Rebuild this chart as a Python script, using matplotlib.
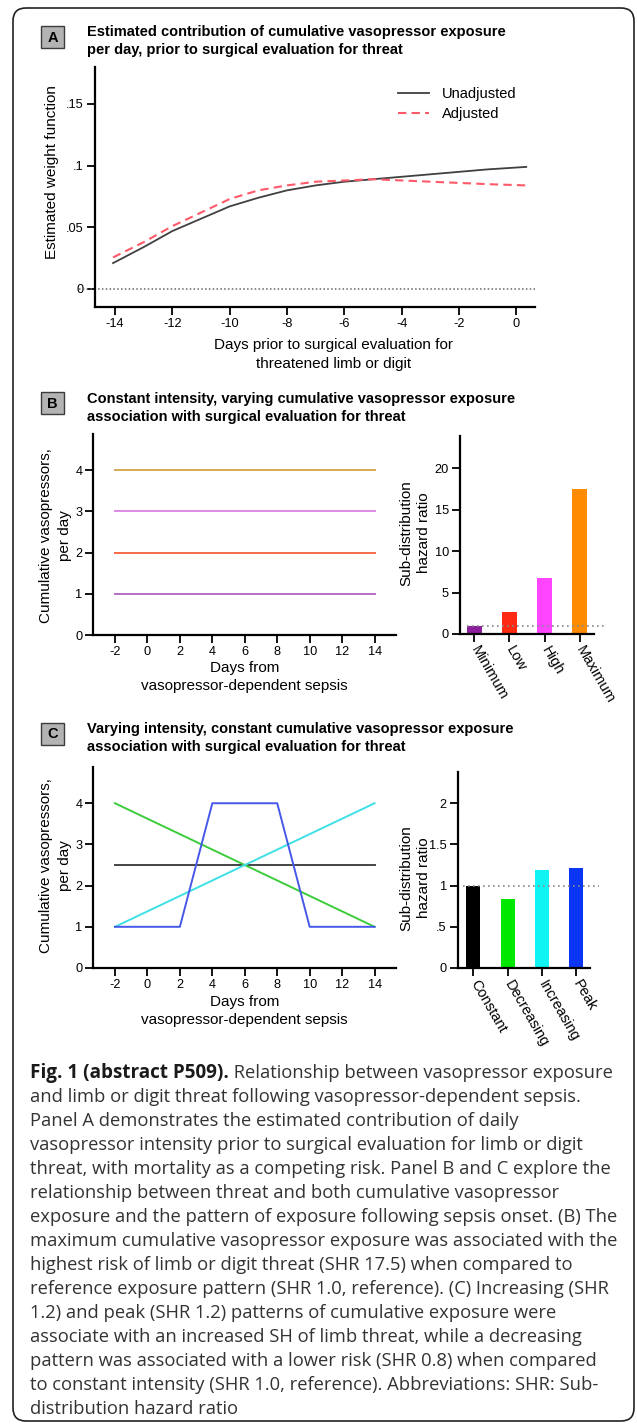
import matplotlib
matplotlib.use("Agg")
import matplotlib.pyplot as plt
from matplotlib.patches import FancyBboxPatch, Rectangle

# --- data ---
# Panel A: estimated weight function per day before surgical evaluation
days_a = [-14.07, -13, -12, -11, -10, -9, -8, -7, -6, -5, -4, -3, -2, -1, 0.34]
unadjusted = [0.021, 0.034, 0.047, 0.057, 0.067, 0.074, 0.080, 0.084, 0.087,
              0.089, 0.091, 0.093, 0.095, 0.097, 0.099]
adjusted = [0.0256, 0.038, 0.051, 0.062, 0.073, 0.080, 0.084, 0.087, 0.088,
            0.089, 0.088, 0.087, 0.086, 0.085, 0.084]

# Panel B: constant intensity exposure levels and their SHR
days_bc = [-2, 14]
b_levels = [1, 2, 3, 4]
b_cats = ["Minimum", "Low", "High", "Maximum"]
b_shr = [1.0, 2.6, 6.8, 17.5]

# Panel C: exposure patterns and their SHR
c_constant = [2.5, 2.5]
c_decreasing = [4, 1]
c_increasing = [1, 4]
c_peak_days = [-2, 2, 4, 8, 10, 14]
c_peak_vals = [1, 1, 4, 4, 1, 1]
c_cats = ["Constant", "Decreasing", "Increasing", "Peak"]
c_shr = [1.0, 0.84, 1.19, 1.21]

caption_bold = "Fig. 1 (abstract P509)."
caption_lines = [
    " Relationship between vasopressor exposure",
    "and limb or digit threat following vasopressor-dependent sepsis.",
    "Panel A demonstrates the estimated contribution of daily",
    "vasopressor intensity prior to surgical evaluation for limb or digit",
    "threat, with mortality as a competing risk. Panel B and C explore the",
    "relationship between threat and both cumulative vasopressor",
    "exposure and the pattern of exposure following sepsis onset. (B) The",
    "maximum cumulative vasopressor exposure was associated with the",
    "highest risk of limb or digit threat (SHR 17.5) when compared to",
    "reference exposure pattern (SHR 1.0, reference). (C) Increasing (SHR",
    "1.2) and peak (SHR 1.2) patterns of cumulative exposure were",
    "associate with an increased SH of limb threat, while a decreasing",
    "pattern was associated with a lower risk (SHR 0.8) when compared",
    "to constant intensity (SHR 1.0, reference). Abbreviations: SHR: Sub-",
    "distribution hazard ratio",
]

# colours
b_line_colors = ["#b46cc4", "#f76a48", "#e08ae6", "#d6aa55"]
b_bar_colors = ["#8e1f9c", "#ff2a12", "#ff45ff", "#ff8c00"]
c_bar_colors = ["#000000", "#00e800", "#10f4f4", "#0a35f5"]

plt.rcParams['font.family'] = ['Liberation Sans', 'DejaVu Sans']
plt.rcParams['axes.unicode_minus'] = False

W, H = 637, 1424
LABEL_FS = 11
TICK_FS = 9.2
TITLE_FS = 10.5
fig = plt.figure(figsize=(W / 100, H / 100), dpi=100)


def px_axes(x0, y0, x1, y1):
    return fig.add_axes([x0 / W, 1 - y1 / H, (x1 - x0) / W, (y1 - y0) / H])


def ftext(x, y, s, **kw):
    return fig.text(x / W, 1 - y / H, s, **kw)


def style(ax):
    for s in ["top", "right"]:
        ax.spines[s].set_visible(False)
    for s in ["left", "bottom"]:
        ax.spines[s].set_linewidth(1.6)
    ax.tick_params(direction="out", length=5.5, width=1.3, labelsize=TICK_FS,
                   pad=2.5)
    ax.patch.set_alpha(0)


def panel_tag(letter, y0):
    fig.patches.append(Rectangle((41 / 100, (H - y0 - 22) / 100), 0.23, 0.22,
                                 transform=fig.dpi_scale_trans,
                                 facecolor="#b3b3b3", edgecolor="#3c3c3c", lw=1.0))
    ftext(52.5, y0 + 11.5, letter, ha="center", va="center",
          fontsize=10.5, fontweight="bold")


# outer rounded border, kept behind the axes
fig.patches.append(FancyBboxPatch((13 / 100, (H - 1421) / 100), 621 / 100, 1413 / 100,
                                  boxstyle="round,pad=0,rounding_size=0.13",
                                  transform=fig.dpi_scale_trans, zorder=-5,
                                  facecolor="white", edgecolor="#222222", lw=1.2))

# ---------------- Panel A ----------------
panel_tag("A", 26)
ftext(87, 32, "Estimated contribution of cumulative vasopressor exposure",
      fontsize=TITLE_FS, fontweight="bold", va="center")
ftext(87, 50, "per day, prior to surgical evaluation for threat",
      fontsize=TITLE_FS, fontweight="bold", va="center")

ax_a = px_axes(94.7, 67, 535.4, 307)
style(ax_a)
ax_a.plot([-15.26, 0.66], [0, 0], color="#666666", ls=(0, (1, 1.5)), lw=1.1,
          clip_on=False)
ax_a.plot(days_a, unadjusted, color="#404040", lw=1.3, label="Unadjusted")
ax_a.plot(days_a, adjusted, color="#ff5a6a", lw=1.5, dashes=(4, 2.5),
          label="Adjusted")
ax_a.set_xlim(-14.71, 0.66)
ax_a.set_ylim(-0.0146, 0.18)
ax_a.set_xticks(range(-14, 1, 2))
ax_a.set_yticks([0, 0.05, 0.1, 0.15], ["0", ".05", ".1", ".15"])
ax_a.legend(loc="upper left", bbox_to_anchor=(398 / W, 1 - 87 / H),
            bbox_transform=fig.transFigure, frameon=False, fontsize=10.5,
            handlelength=2.1, handletextpad=0.9, labelspacing=0.4,
            borderpad=0, borderaxespad=0)
ftext(52, 172, "Estimated weight function", rotation=90, ha="center",
      va="center", fontsize=LABEL_FS)
ftext(334, 345, "Days prior to surgical evaluation for", ha="center",
      va="center", fontsize=LABEL_FS)
ftext(334, 364, "threatened limb or digit", ha="center", va="center",
      fontsize=LABEL_FS)


def line_axes(y0, y1):
    ax = px_axes(93.4, y0, 396, y1)
    style(ax)
    ax.set_xlim(-3.33, 15.32)
    ax.set_ylim(0, 4.88)
    ax.set_xticks(range(-2, 15, 2))
    ax.set_yticks(range(0, 5))
    return ax


def bar_axes(x0, y0, x1, y1, cats, vals, colors):
    ax = px_axes(x0, y0, x1, y1)
    style(ax)
    ax.bar(range(len(cats)), vals, width=0.41, color=colors)
    ax.set_xticks(range(len(cats)), cats, rotation=-60, ha="left",
                  va="center", rotation_mode="anchor", fontsize=10.5)
    ax.tick_params(axis="x", pad=4)
    return ax


def two_line_labels(x_center, y_center, y_top_line, lines, rot):
    for i, s in enumerate(lines):
        if rot:
            ftext(x_center + 18.5 * i, y_center, s, rotation=90, ha="center",
                  va="center", fontsize=LABEL_FS)
        else:
            ftext(x_center, y_top_line + 18 * i, s, ha="center", va="center",
                  fontsize=LABEL_FS)


# ---------------- Panel B ----------------
panel_tag("B", 392)
ftext(87, 399, "Constant intensity, varying cumulative vasopressor exposure",
      fontsize=TITLE_FS, fontweight="bold", va="center")
ftext(87, 417, "association with surgical evaluation for threat",
      fontsize=TITLE_FS, fontweight="bold", va="center")

ax_b1 = line_axes(434, 635)
for lvl, col in zip(b_levels, b_line_colors):
    ax_b1.plot(days_bc, [lvl, lvl], color=col, lw=1.4)
two_line_labels(46, 536, None, ["Cumulative vasopressors,", "per day"], True)
two_line_labels(244.7, None, 668, ["Days from", "vasopressor-dependent sepsis"], False)

ax_b2 = bar_axes(460, 436, 594, 634, b_cats, b_shr, b_bar_colors)
ax_b2.plot([-0.2, 3.73], [1, 1], color="#888888", ls=(0, (1, 2)), lw=1.2,
           clip_on=False)
ax_b2.set_xlim(-0.41, 3.41)
ax_b2.set_ylim(0, 23.9)
ax_b2.set_yticks([0, 5, 10, 15, 20])
two_line_labels(406, 533, None, ["Sub-distribution", "hazard ratio"], True)

# ---------------- Panel C ----------------
panel_tag("C", 723)
ftext(87, 729, "Varying intensity, constant cumulative vasopressor exposure",
      fontsize=TITLE_FS, fontweight="bold", va="center")
ftext(87, 747, "association with surgical evaluation for threat",
      fontsize=TITLE_FS, fontweight="bold", va="center")

ax_c1 = line_axes(767, 968)
ax_c1.plot(days_bc, c_constant, color="#444444", lw=1.4)
ax_c1.plot(days_bc, c_decreasing, color="#3ccc3c", lw=1.4)
ax_c1.plot(days_bc, c_increasing, color="#3ee0e6", lw=1.4)
ax_c1.plot(c_peak_days, c_peak_vals, color="#4658ea", lw=1.4)
two_line_labels(46, 866, None, ["Cumulative vasopressors,", "per day"], True)
two_line_labels(244.7, None, 1002, ["Days from", "vasopressor-dependent sepsis"], False)

ax_c2 = bar_axes(458, 772, 590, 968, c_cats, c_shr, c_bar_colors)
ax_c2.plot([-0.3, 3.66], [1, 1], color="#888888", ls=(0, (1, 2)), lw=1.2,
           clip_on=False)
ax_c2.set_xlim(-0.45, 3.40)
ax_c2.set_ylim(0, 2.38)
ax_c2.set_yticks([0, 0.5, 1, 1.5, 2], ["0", ".5", "1", "1.5", "2"])
two_line_labels(406, 878, None, ["Sub-distribution", "hazard ratio"], True)

# ---------------- caption ----------------
cap_font = ["Open Sans", "DejaVu Sans"]
cap_size = 13.2
y0 = 1078
bold = ftext(30.5, y0, caption_bold, fontsize=13.6, fontweight="bold",
             family=cap_font, va="baseline", color="#1a1a1a")
fig.canvas.draw()
bb = bold.get_window_extent(fig.canvas.get_renderer())
fig.text(bb.x1 / W, 1 - y0 / H, caption_lines[0], fontsize=cap_size,
         family=cap_font, va="baseline", color="#333333")
for i, line in enumerate(caption_lines[1:], start=1):
    ftext(30.5, y0 + 24 * i, line, fontsize=cap_size, family=cap_font,
          va="baseline", color="#333333")

fig.savefig("out.png", dpi=100)
